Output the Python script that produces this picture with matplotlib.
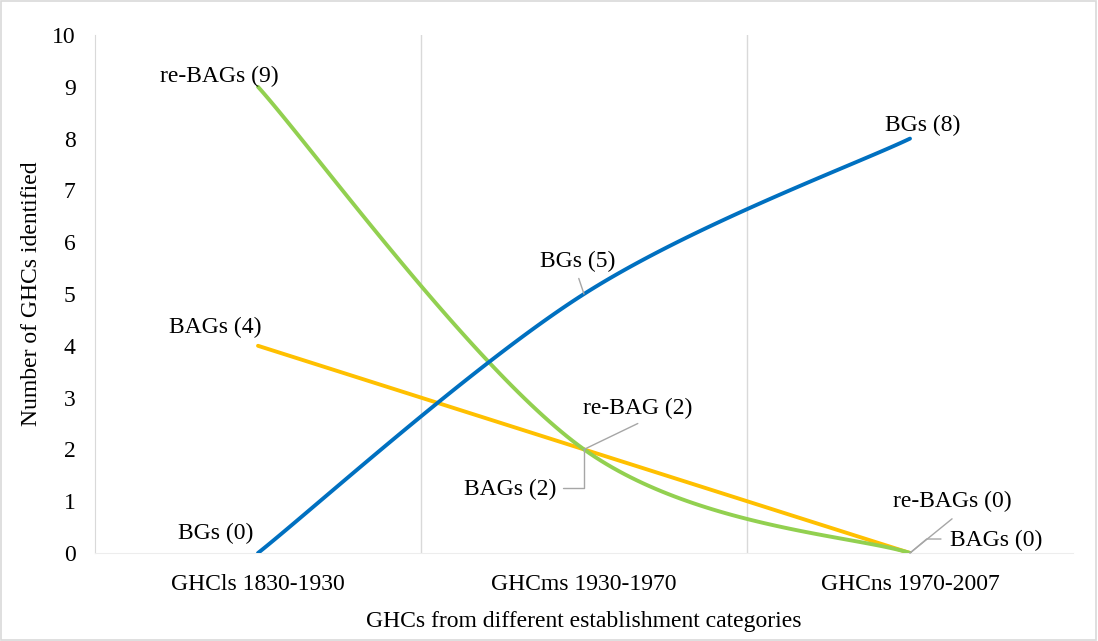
import matplotlib.pyplot as plt
import numpy as np
from matplotlib.patches import Rectangle

plt.rcParams['font.family'] = ['Liberation Serif', 'DejaVu Serif']

categories = ['GHCls 1830-1930', 'GHCms 1930-1970', 'GHCns 1970-2007']
bgs = [0, 5, 8]
re_bags = [9, 2, 0]
bags = [4, 2, 0]


def smooth(xs, ys, n=60):
    # excel-like smoothed line (bezier through points, catmull-rom controls)
    pts = np.column_stack([xs, ys]).astype(float)
    out = []
    for i in range(len(pts) - 1):
        p0 = pts[max(i - 1, 0)]
        p1 = pts[i]
        p2 = pts[i + 1]
        p3 = pts[min(i + 2, len(pts) - 1)]
        c1 = p1 + (p2 - p0) / 6
        c2 = p2 - (p3 - p1) / 6
        t = np.linspace(0, 1, n)[:, None]
        seg = ((1 - t) ** 3) * p1 + 3 * ((1 - t) ** 2) * t * c1 + 3 * (1 - t) * t ** 2 * c2 + t ** 3 * p2
        out.append(seg if i == 0 else seg[1:])
    out = np.vstack(out)
    return out[:, 0], out[:, 1]


fig = plt.figure(figsize=(10.98, 6.41), dpi=100)
ax = fig.add_axes([95 / 1098, 1 - 553 / 641, 978 / 1098, 518 / 641])

x = np.arange(len(categories))
for vals, col in [(bags, '#FFC000'), (re_bags, '#92D050'), (bgs, '#0070C0')]:
    sx, sy = smooth(x, vals)
    ax.plot(sx, sy, color=col, lw=2.8, solid_capstyle='round', zorder=3)

fs = 17
ax.set_xlim(-0.5, 2.5)
ax.set_ylim(0, 10)
ax.set_yticks(range(0, 11))
ax.set_xticks(x)
ax.set_xticklabels(categories)
for g in [0.5, 1.5]:
    ax.axvline(g, color='#D9D9D9', lw=1, zorder=1)
ax.tick_params(length=0, labelsize=fs, colors='black')
ax.tick_params(axis='y', pad=14)
ax.tick_params(axis='x', pad=15)
for s in ['top', 'right']:
    ax.spines[s].set_visible(False)
ax.spines['left'].set_color('#D9D9D9')
ax.spines['bottom'].set_color('#EDEDED')

ax.set_ylabel('Number of GHCs identified', fontsize=fs, labelpad=7)
ax.set_xlabel('GHCs from different establishment categories', fontsize=fs, labelpad=12)

lead = dict(arrowstyle='-', color='#A6A6A6', lw=1, shrinkA=0, shrinkB=0)
# data labels
ax.text(-0.12, 9.2, 're-BAGs (9)', fontsize=fs, ha='center', va='center')
ax.text(-0.13, 4.36, 'BAGs (4)', fontsize=fs, ha='center', va='center')
ax.text(-0.13, 0.37, 'BGs (0)', fontsize=fs, ha='center', va='center')
ax.text(2.04, 8.25, 'BGs (8)', fontsize=fs, ha='center', va='center')

ax.text(0.98, 5.62, 'BGs (5)', fontsize=fs, ha='center', va='center')
ax.annotate('', xy=(x[1], bgs[1]), xytext=(0.984, 5.3), arrowprops=lead)

ax.text(1.165, 2.8, 're-BAG (2)', fontsize=fs, ha='center', va='center')
ax.annotate('', xy=(x[1], re_bags[1]), xytext=(1.165, 2.5), arrowprops=lead)

ax.text(0.773, 1.22, 'BAGs (2)', fontsize=fs, ha='center', va='center')
ax.annotate('', xy=(x[1], bags[1]), xytext=(0.935, 1.25),
            arrowprops=dict(lead, connectionstyle='angle,angleA=0,angleB=90,rad=0'))

ax.text(2.13, 0.99, 're-BAGs (0)', fontsize=fs, ha='center', va='center')
ax.annotate('', xy=(x[2], re_bags[2]), xytext=(2.129, 0.66), arrowprops=lead)

ax.text(2.264, 0.25, 'BAGs (0)', fontsize=fs, ha='center', va='center')
ax.annotate('', xy=(x[2], bags[2]), xytext=(2.095, 0.27),
            arrowprops=dict(lead, connectionstyle='angle,angleA=0,angleB=40,rad=0'))

fig.patches.append(Rectangle((0.001, 0.002), 0.997, 0.996, transform=fig.transFigure,
                             fill=False, edgecolor='#D9D9D9', lw=1.2))

fig.savefig('out.png', dpi=100)
